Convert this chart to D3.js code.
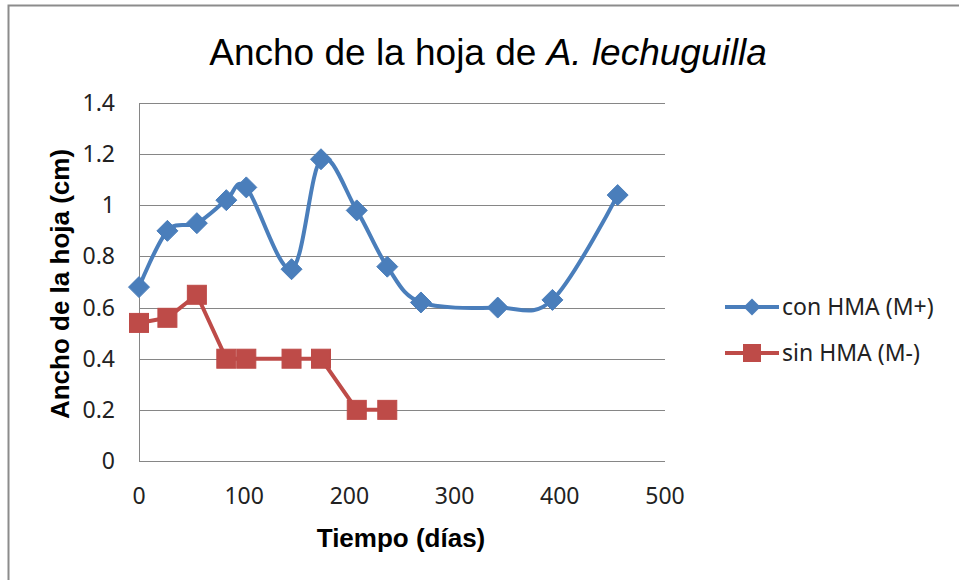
<!DOCTYPE html>
<html><head><meta charset="utf-8">
<script src="https://cdn.jsdelivr.net/npm/d3@7"></script>
<style>body{margin:0;background:#fff}</style>
</head><body>
<svg id="c" width="959" height="580"></svg>
<script>
const conDays = [0, 27, 55, 83, 102, 145, 173, 207, 236, 268, 341, 393, 455];
const conVals = [0.68, 0.90, 0.93, 1.02, 1.07, 0.75, 1.18, 0.98, 0.76, 0.62, 0.60, 0.63, 1.04];
const sinDays = [0, 27, 55, 83, 102, 145, 173, 207, 236];
const sinVals = [0.54, 0.56, 0.65, 0.40, 0.40, 0.40, 0.40, 0.20, 0.20];
const xTicks = [0, 100, 200, 300, 400, 500];
const yTicks = [0, 0.2, 0.4, 0.6, 0.8, 1, 1.2, 1.4];
const seriesNames = ["con HMA (M+)", "sin HMA (M-)"];

const svg = d3.select("#c");
const blue = "#4A7EBB", red = "#BE4B48", grid = "#868686";
const x = d3.scaleLinear().domain([0, 500]).range([139, 665]);
const y = d3.scaleLinear().domain([0, 1.4]).range([461, 103]);

svg.append("rect").attr("x", 8.5).attr("y", 5.5).attr("width", 1000).attr("height", 1000)
  .attr("fill", "#fff").attr("stroke", "#8c8c8c").attr("stroke-width", 2);

// gridlines
svg.append("g").selectAll("line").data(yTicks).join("line")
  .attr("x1", x(0)).attr("x2", x(500))
  .attr("y1", d => Math.round(y(d)) + 0.5).attr("y2", d => Math.round(y(d)) + 0.5)
  .attr("stroke", grid).attr("stroke-width", 1);
svg.append("line").attr("x1", x(0) + 0.5).attr("x2", x(0) + 0.5).attr("y1", y(1.4)).attr("y2", y(0))
  .attr("stroke", grid);

const tickFont = "'Noto Sans', 'Open Sans', sans-serif";
svg.append("g").selectAll("text").data(yTicks).join("text")
  .attr("x", 115).attr("y", d => y(d)).attr("dy", "0.35em").attr("text-anchor", "end")
  .attr("font-family", tickFont).attr("font-size", 23).attr("fill", "#222")
  .text(d => d3.format("")(d));
svg.append("g").selectAll("text").data(xTicks).join("text")
  .attr("x", d => x(d)).attr("y", 504).attr("text-anchor", "middle")
  .attr("font-family", tickFont).attr("font-size", 23).attr("fill", "#222")
  .text(d => d);

// titles
const t = svg.append("text").attr("x", 488).attr("y", 65).attr("text-anchor", "middle")
  .attr("font-family", "'Liberation Sans', Arial, sans-serif").attr("font-size", 37).attr("fill", "#000");
t.append("tspan").text("Ancho de la hoja de ");
t.append("tspan").attr("font-style", "italic").text("A. lechuguilla");

svg.append("text").attr("x", 401).attr("y", 547).attr("text-anchor", "middle")
  .attr("font-family", "'Liberation Sans', Arial, sans-serif").attr("font-weight", "bold")
  .attr("font-size", 26).text("Tiempo (días)");
svg.append("text").attr("transform", "translate(69,284) rotate(-90)").attr("text-anchor", "middle")
  .attr("font-family", "'Liberation Sans', Arial, sans-serif").attr("font-weight", "bold")
  .attr("font-size", 26).text("Ancho de la hoja (cm)");

// series
const con = conDays.map((d, i) => [d, conVals[i]]);
const sin = sinDays.map((d, i) => [d, sinVals[i]]);
const lineSmooth = d3.line().x(d => x(d[0])).y(d => y(d[1])).curve(d3.curveCardinal.tension(0));
const lineStraight = d3.line().x(d => x(d[0])).y(d => y(d[1]));

svg.append("path").attr("d", lineSmooth(con)).attr("fill", "none").attr("stroke", blue)
  .attr("stroke-width", 4).attr("stroke-linejoin", "round").attr("stroke-linecap", "round");
svg.append("path").attr("d", lineStraight(sin)).attr("fill", "none").attr("stroke", red)
  .attr("stroke-width", 4).attr("stroke-linejoin", "round");

const diamond = s => `M0,${-s}L${s},0L0,${s}L${-s},0Z`;
svg.append("g").selectAll("path").data(con).join("path")
  .attr("transform", d => `translate(${x(d[0])},${y(d[1])})`)
  .attr("d", diamond(10.5)).attr("fill", blue).attr("stroke", blue).attr("stroke-width", 1);
svg.append("g").selectAll("rect").data(sin).join("rect")
  .attr("x", d => x(d[0]) - 9.5).attr("y", d => y(d[1]) - 9.5).attr("width", 19).attr("height", 19)
  .attr("fill", red).attr("stroke", red).attr("stroke-width", 1);

// legend
const lg = svg.append("g");
[[blue, 307], [red, 353]].forEach(([c, ly], i) => {
  lg.append("line").attr("x1", 725).attr("x2", 779).attr("y1", ly).attr("y2", ly)
    .attr("stroke", c).attr("stroke-width", 4);
  if (i === 0) lg.append("path").attr("transform", `translate(752,${ly})`).attr("d", diamond(8.5)).attr("fill", c);
  else lg.append("rect").attr("x", 743).attr("y", ly - 9).attr("width", 18).attr("height", 18).attr("fill", c);
  lg.append("text").attr("x", 782).attr("y", ly).attr("dy", "0.35em")
    .attr("font-family", tickFont).attr("font-size", 23).attr("fill", "#222").text(seriesNames[i]);
});
</script>
</body></html>
